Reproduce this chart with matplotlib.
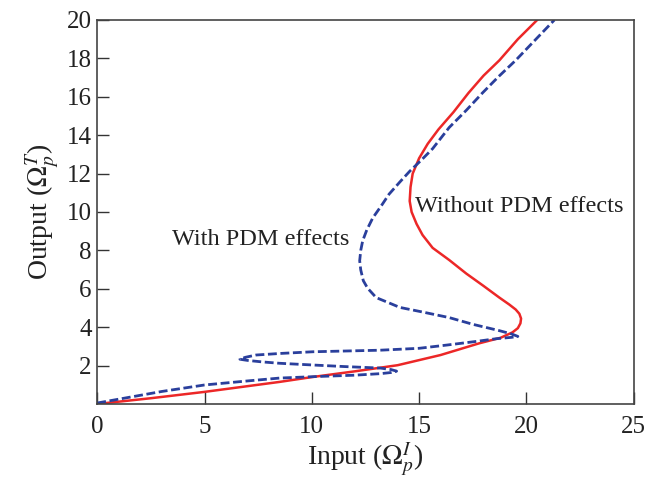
import matplotlib
matplotlib.use("Agg")
import matplotlib.pyplot as plt

# Without PDM effects (red, solid): input x, output y
red_x = [0.0, 2.5, 5.0, 8.5, 10.0, 12.0, 14.0, 16.0, 17.8, 18.8, 19.35, 19.6, 19.72, 19.75,
         19.67, 19.5, 19.2, 18.74, 18.0, 17.2, 16.4, 15.63, 15.16, 14.88, 14.65, 14.56,
         14.6, 14.7, 15.0, 15.4, 15.9, 16.6, 17.3, 18.0, 18.74, 19.6, 20.5]
red_y = [0.0, 0.3, 0.63, 1.15, 1.40, 1.7, 2.02, 2.55, 3.16, 3.45, 3.73, 3.95, 4.2, 4.45,
         4.7, 4.92, 5.18, 5.54, 6.15, 6.79, 7.5, 8.13, 8.8, 9.38, 10.0, 10.57,
         11.3, 12.0, 12.8, 13.55, 14.3, 15.2, 16.2, 17.1, 17.9, 19.0, 20.0]

# With PDM effects (blue, dashed)
blue_x = [0.0, 1.5, 3.0, 5.0, 7.0, 8.5, 10.0, 12.0, 13.2, 13.7, 13.95, 13.7, 13.2, 11.5,
          10.05, 8.5, 7.7, 7.0, 6.65, 6.9, 7.4, 8.5, 10.05, 13.16, 15.0, 16.3, 17.6,
          18.6, 19.3, 19.6, 19.3, 18.7, 17.5, 16.4, 15.16, 14.1, 13.5, 13.0, 12.6, 12.4,
          12.28, 12.23, 12.28, 12.37, 12.56, 12.84, 13.26, 13.6, 14.1, 14.56, 15.1, 15.63,
          16.4, 17.2, 17.95, 18.7, 19.5, 20.4, 21.3]
blue_y = [0.05, 0.35, 0.65, 0.99, 1.2, 1.35, 1.42, 1.5, 1.58, 1.64, 1.71, 1.79, 1.87, 1.95,
          2.03, 2.12, 2.19, 2.27, 2.33, 2.43, 2.55, 2.63, 2.72, 2.8, 2.9, 3.07, 3.25,
          3.40, 3.47, 3.52, 3.65, 3.83, 4.15, 4.5, 4.79, 5.03, 5.31, 5.54, 6.03, 6.42,
          6.98, 7.46, 8.0, 8.5, 9.06, 9.69, 10.36, 10.93, 11.56, 12.12, 12.7, 13.3,
          14.4, 15.3, 16.2, 17.05, 17.9, 18.95, 20.0]

x_ticks = [0, 5, 10, 15, 20, 25]
y_ticks = [2, 4, 6, 8, 10, 12, 14, 16, 18, 20]

plt.rcParams['font.family'] = ['Liberation Serif', 'DejaVu Serif']
plt.rcParams['mathtext.fontset'] = 'stix'

fig = plt.figure(figsize=(6.48, 4.83), dpi=100)
ax = fig.add_axes([0.150, 0.1636, 0.828, 0.795])

ax.plot(red_x, red_y, color='#ec2727', lw=1.8, solid_joinstyle='round')
ax.plot(blue_x, blue_y, color='#2a3f9c', lw=2.0, linestyle=(0, (3.2, 1.3)))

ax.text(3.5, 8.55, 'With PDM effects', fontsize=17.5, va='center', ha='left', color='#222222')
ax.text(14.8, 10.27, 'Without PDM effects', fontsize=17.5, va='center', ha='left', color='#222222')

ax.set_xlim(0, 25)
ax.set_ylim(0, 20)
ax.set_xticks(x_ticks)
ax.set_yticks(y_ticks)
ax.tick_params(direction='in', length=8.5, width=1.0, labelsize=18, colors='#333333',
               labelcolor='#222222')
ax.tick_params(axis='x', pad=9)
ax.tick_params(axis='y', pad=4)
for s in ax.spines.values():
    s.set_color('#444444')
    s.set_linewidth(1.2)

ax.set_xlabel(r'Input ($\Omega_p^I$)', fontsize=20, color='#222222', labelpad=1)
ax.set_ylabel(r'Output ($\Omega_p^T$)', fontsize=20, color='#222222', labelpad=4)

fig.savefig('out.png', dpi=100)
